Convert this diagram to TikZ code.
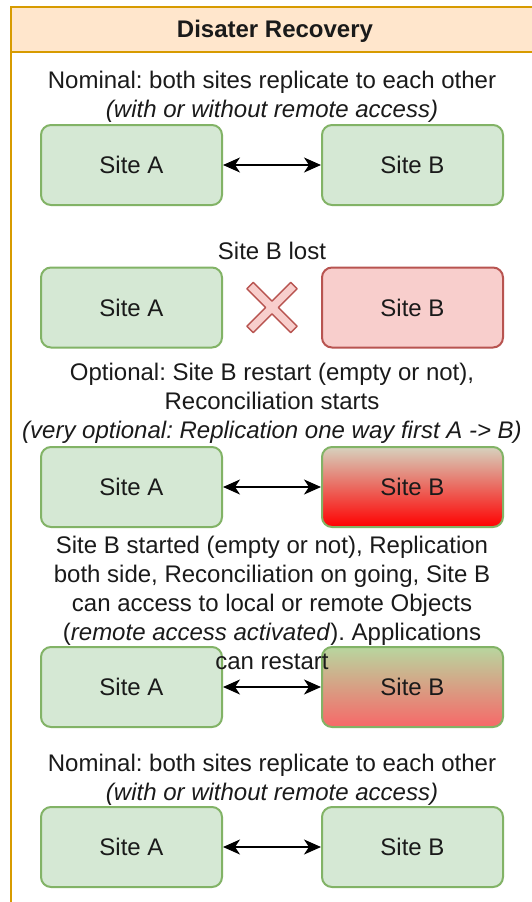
\documentclass[tikz,border=0pt]{standalone}
\usepackage{fontspec}
\setmainfont{Liberation Sans}
\usetikzlibrary{arrows.meta,positioning}
\frenchspacing

\definecolor{hdrfill}{HTML}{FFE6CC}
\definecolor{hdrline}{HTML}{D79B00}
\definecolor{okfill}{HTML}{D5E8D4}
\definecolor{okline}{HTML}{82B366}
\definecolor{lostfill}{HTML}{F8CECC}
\definecolor{lostline}{HTML}{B85450}
\definecolor{restarttop}{HTML}{D6D2BE}
\definecolor{restartbot}{HTML}{FF0000}
\definecolor{runtop}{HTML}{B8D69F}
\definecolor{runbot}{HTML}{F76868}
\definecolor{txt}{HTML}{1A1A1A}

\tikzset{
  site/.style={rectangle, rounded corners=10pt, draw=okline, fill=okfill, line width=2pt,
    minimum width=181pt, minimum height=80pt, inner sep=0pt, text=txt},
  sitelost/.style={site, draw=lostline, fill=lostfill},
  siterestart/.style={site, top color=restarttop, bottom color=restartbot},
  siterun/.style={site, top color=runtop, bottom color=runbot},
  repl/.style={{Stealth[length=17pt,width=15pt,inset=5pt]}-{Stealth[length=17pt,width=15pt,inset=5pt]}, line width=2pt},
  step text/.style={align=center, inner sep=0pt, text=txt},
  crossmark/.style={draw=lostline, fill=lostfill, line width=1.5pt, line join=round}
}

\begin{document}
\begin{tikzpicture}[x=1pt,y=-1pt,font=\fontsize{24}{28.8}\selectfont]
      \useasboundingbox (0,0) rectangle (531,902);
      % frame
      \fill[white] (11,52) rectangle (545,910);
      \draw[hdrline, line width=2pt] (11,910) -- (11,52);
      \draw[hdrline, fill=hdrfill, line width=2pt] (11,7) rectangle (545,52);
      \node[font=\fontsize{24}{28.8}\selectfont\bfseries, text=txt] (title) at (275,31.5) {Disater Recovery};

      % sites
      \foreach \row/\y in {1/165,2/307.5,3/487,4/687,5/847} {\node[site] (sa\row) at (131.5,\y) {Site A};}
      \node[site] (sb1) at (412.5,165) {Site B};
      \node[sitelost] (sb2) at (412.5,307.5) {Site B};
      \node[siterestart] (sb3) at (412.5,487) {Site B};
      \node[siterun] (sb4) at (412.5,687) {Site B};
      \node[site] (sb5) at (412.5,847) {Site B};
      \foreach \row in {1,3,4,5} {\draw[repl] (sa\row) -- (sb\row);}

      % lost link
      \begin{scope}[shift={(272,307.5)}, rotate=45]
        \draw[crossmark] (-4.5,-31) -- (4.5,-31) -- (4.5,-4.5) -- (31,-4.5) -- (31,4.5) -- (4.5,4.5) -- (4.5,31)
          -- (-4.5,31) -- (-4.5,4.5) -- (-31,4.5) -- (-31,-4.5) -- (-4.5,-4.5) -- cycle;
      \end{scope}

      % step texts
      \node[step text] (t1) at (272,97) {Nominal: both sites replicate to each other\\\textit{(with or without remote access)}};
      \node[step text] (t2) at (272,251) {Site B lost};
      \node[step text] (t3) at (272,403) {Optional: Site B restart (empty or not),\\Reconciliation starts\\\textit{(very optional: Replication one way first A -> B)}};
      \node[step text] (t4) at (272,603) {Site B started (empty or not), Replication\\both side, Reconciliation on going, Site B\\can access to local or remote Objects\\(\textit{remote access activated}). Applications\\can restart};
      \node[step text] (t5) at (272,779.5) {Nominal: both sites replicate to each other\\\textit{(with or without remote access)}};
   \end{tikzpicture}
\end{document}
